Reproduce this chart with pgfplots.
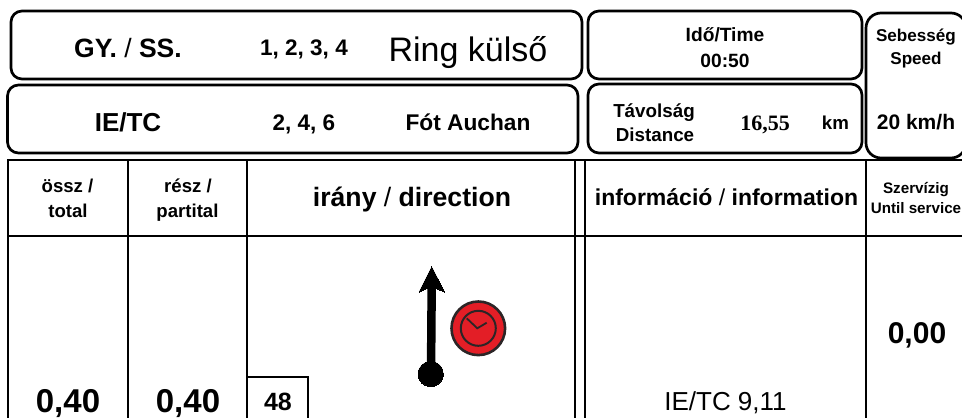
\documentclass[border=0pt]{standalone}
\usepackage{pgfplots}
\pgfplotsset{compat=1.18}
\usepackage{fontspec}
\setmainfont{Liberation Sans}
\newfontfamily\serifface{Liberation Serif}
\definecolor{clockred}{HTML}{E31E26}
\definecolor{clockdark}{HTML}{2B2526}
\newcommand{\fs}[1]{\fontsize{#1}{#1}\selectfont}
\newcommand{\B}[4]{\node[anchor=base,inner sep=0pt] at (axis cs:#1,#2) {\fs{#3}\bfseries #4};}
\newcommand{\R}[4]{\node[anchor=base,inner sep=0pt] at (axis cs:#1,#2) {\fs{#3}#4};}
\pgfdeclareplotmark{clockface}{%
  \pgfsetstrokecolor{clockdark}\pgfsetfillcolor{clockred}%
  \pgfsetlinewidth{2.6pt}%
  \pgfpathcircle{\pgfpoint{0pt}{0pt}}{26.8pt}\pgfusepathqfillstroke
  \pgfsetlinewidth{2pt}%
  \pgfpathcircle{\pgfpoint{0pt}{0pt}}{17.5pt}\pgfusepathqstroke
  \pgfsetlinewidth{1.8pt}%
  \pgfpathmoveto{\pgfpoint{-11.6pt}{10pt}}%
  \pgfpathlineto{\pgfpoint{-1pt}{0pt}}%
  \pgfpathlineto{\pgfpoint{8.4pt}{5.6pt}}%
  \pgfusepathqstroke}
\begin{document}
\begin{tikzpicture}
\path (0,0) rectangle (962pt,418pt);
\begin{axis}[
  at={(0,0)}, anchor=south west,
  scale only axis, width=962pt, height=418pt,
  xmin=0, xmax=962, ymin=0, ymax=418, y dir=reverse,
  hide axis]
% rounded boxes
\pgfplotsset{rbox/.style={black, line width=2.7pt, rounded corners=11pt, line join=round, no markers}}
\addplot[rbox] coordinates {(200,11) (582,11) (582,79) (11,79) (11,11) (200,11)};
\addplot[rbox] coordinates {(200,85) (578,85) (578,153) (7.5,153) (7.5,85) (200,85)};
\addplot[rbox] coordinates {(700,11) (862,11) (862,79) (588,79) (588,11) (700,11)};
\addplot[rbox] coordinates {(700,84) (862,84) (862,153) (588,153) (588,84) (700,84)};
\addplot[rbox, rounded corners=15pt] coordinates {(900,13) (966,13) (966,158) (866,158) (866,13) (900,13)};
% table rules
\pgfplotsset{rule/.style={black, line width=2.2pt, no markers}}
\addplot[rule] coordinates {(7,160) (962,160)};
\addplot[rule] coordinates {(7,236) (962,236)};
\addplot[rule] coordinates {(8,160) (8,418)};
\addplot[rule] coordinates {(128,160) (128,418)};
\addplot[rule] coordinates {(247,160) (247,418)};
\addplot[rule] coordinates {(575,160) (575,418)};
\addplot[rule] coordinates {(585,160) (585,418)};
\addplot[rule] coordinates {(866,160) (866,418)};
\addplot[rule] coordinates {(247,377) (308,377) (308,418)};
% arrow
\addplot[black, line width=8.5pt, no markers] coordinates {(431,374) (431.7,285)};
\addplot[black, fill=black, line width=0pt, no markers] coordinates {(431.7,266.7) (444.7,292) (431.7,286.5) (419,292) (431.7,266.7)};
\addplot[only marks, mark=*, mark size=12.7pt, mark options={fill=black, draw=black, line width=0pt}] coordinates {(430.7,374)};
% clock
\addplot[only marks, mark=clockface] coordinates {(478.3,328.3)};
% texts
\B{128}{57}{26.5}{GY. {\mdseries /} SS.}
\B{304}{55}{22.5}{1, 2, 3, 4}
\R{468}{61}{34}{Ring külső}
\B{128}{131.5}{26}{IE/TC}
\B{304}{130}{22.5}{2, 4, 6}
\B{468}{130}{22.7}{Fót Auchan}
\B{725}{41}{19.2}{Idő/Time}
\B{725}{67}{19.2}{00:50}
\B{654}{117}{18.8}{Távolság}
\B{655}{141}{18.8}{Distance}
\node[anchor=base,inner sep=0pt] at (axis cs:765,130) {\fs{22}\serifface\bfseries 16,55};
\B{835.5}{129}{18.7}{km}
\B{916}{41}{17.1}{Sebesség}
\B{916}{64}{17.1}{Speed}
\B{916}{129}{21}{20 km/h}
\B{67.5}{192}{18.6}{össz /}
\B{68}{217}{18.6}{total}
\B{188}{192}{18.6}{rész /}
\B{187.5}{217}{18.6}{partital}
\B{412}{206}{26.6}{irány {\mdseries /} direction}
\B{726.5}{205}{23}{információ {\mdseries /} information}
\B{916}{193}{15.2}{Szervízig}
\B{916}{213}{15.2}{Until service}
\B{68}{412}{33}{0,40}
\B{188}{412}{33}{0,40}
\B{278}{410}{25}{48}
\B{917}{343}{30}{0,00}
\R{725.5}{410}{26}{IE/TC 9,11}
\end{axis}
\end{tikzpicture}
\end{document}
